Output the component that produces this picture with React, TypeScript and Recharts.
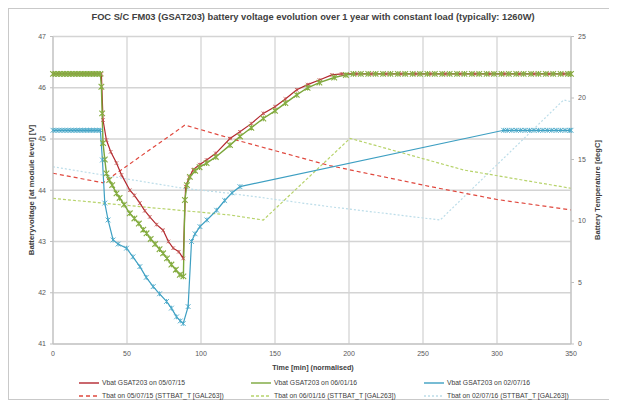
import { LineChart, Line, XAxis, YAxis, CartesianGrid } from "recharts";

// time [min] / value pairs
const vbatRed: [number, number][] = [
  [0, 46.27], [4, 46.27], [8, 46.27], [12, 46.27], [16, 46.27], [20, 46.27], [24, 46.27], [28, 46.27],
  [32.7, 46.27], [33.8, 45.37], [36.1, 44.98], [39, 44.75], [42.9, 44.53], [46.3, 44.3], [51.9, 44.0],
  [55, 43.9], [58.7, 43.75], [62, 43.6], [65.4, 43.48], [70, 43.33], [74.4, 43.22], [78, 43.0],
  [81.2, 42.87], [85, 42.8], [88, 42.67], [89.6, 44.07], [92, 44.25], [94.7, 44.4], [99, 44.5],
  [103.8, 44.59], [110, 44.72], [119.6, 45.01], [126.3, 45.14], [134, 45.3], [142.1, 45.5], [150, 45.63],
  [157, 45.78], [164.7, 45.96], [172, 46.06], [180, 46.15], [188.4, 46.25], [195, 46.27], [205, 46.27],
  [215, 46.27], [225, 46.27], [235, 46.27], [245, 46.27], [255, 46.27], [265, 46.27], [275, 46.27],
  [285, 46.27], [295, 46.27], [305, 46.27], [315, 46.27], [325, 46.27], [335, 46.27], [345, 46.27], [350, 46.27],
];

const vbatGreen: [number, number][] = [
  [0, 46.27], [2, 46.27], [4, 46.27], [6, 46.27], [8, 46.27], [10, 46.27], [12, 46.27], [14, 46.27],
  [16, 46.27], [18, 46.27], [20, 46.27], [22, 46.27], [24, 46.27], [26, 46.27], [28, 46.27], [30, 46.27],
  [32, 46.27], [32.7, 46.02], [33.2, 45.5], [33.8, 44.92], [35, 44.6], [36.1, 44.33], [38, 44.2],
  [40, 44.1], [42.9, 43.94], [45, 43.85], [48, 43.72], [51.9, 43.55], [55, 43.45], [58, 43.35],
  [61, 43.23], [63.2, 43.16], [66, 43.05], [69, 42.95], [72, 42.85], [74.4, 42.77], [77, 42.67],
  [80, 42.55], [83, 42.45], [85.7, 42.35], [88.1, 42.32], [89.1, 43.81], [90.5, 44.1], [92.5, 44.26],
  [96, 44.38], [99, 44.45], [103.8, 44.53], [110, 44.65], [119.6, 44.88], [126.3, 45.05], [134, 45.22],
  [142.1, 45.4], [150, 45.55], [157, 45.7], [164.7, 45.86], [172, 46.0], [180, 46.1], [190, 46.2],
  [197.9, 46.25], [203, 46.27], [208, 46.27], [213, 46.27], [218, 46.27], [223, 46.27], [228, 46.27],
  [233, 46.27], [238, 46.27], [243, 46.27], [248, 46.27], [253, 46.27], [258, 46.27], [263, 46.27],
  [268, 46.27], [273, 46.27], [278, 46.27], [283, 46.27], [288, 46.27], [293, 46.27], [298, 46.27],
  [303, 46.27], [308, 46.27], [313, 46.27], [318, 46.27], [323, 46.27], [328, 46.27], [333, 46.27],
  [338, 46.27], [343, 46.27], [348, 46.27], [350, 46.27],
];

const vbatBlue: [number, number][] = [
  [0, 45.17], [2, 45.17], [4, 45.17], [6, 45.17], [8, 45.17], [10, 45.17], [12, 45.17], [14, 45.17],
  [16, 45.17], [18, 45.17], [20, 45.17], [22, 45.17], [24, 45.17], [26, 45.17], [28, 45.17], [30, 45.17],
  [32, 45.17], [33.4, 44.59], [35, 43.75], [37.2, 43.42], [40.6, 43.03], [44, 42.95], [49.7, 42.87],
  [54, 42.7], [58.7, 42.51], [63, 42.3], [67.7, 42.12], [72, 41.98], [76.7, 41.83], [80, 41.7],
  [83.5, 41.53], [86, 41.45], [88, 41.4], [91.3, 41.73], [93.6, 43.0], [96, 43.15], [99.3, 43.29],
  [104, 43.42], [110.6, 43.61], [116, 43.8], [121, 43.95], [126.3, 44.07], [304.5, 45.17], [307, 45.17],
  [310, 45.17], [313, 45.17], [316, 45.17], [319, 45.17], [322, 45.17], [325, 45.17], [328, 45.17],
  [331, 45.17], [334, 45.17], [337, 45.17], [340, 45.17], [343, 45.17], [346, 45.17], [349, 45.17], [350, 45.17],
];

const tbatRed: [number, number][] = [
  [0, 13.88], [33.8, 13.11], [89.1, 17.8], [126.3, 16.5], [187, 14.5], [255, 12.8], [300, 11.75], [350, 10.9],
];

const tbatGreen: [number, number][] = [
  [0, 11.84], [58.7, 11.17], [119.6, 10.49], [142.1, 10.08], [200.7, 16.72], [277.4, 14.15], [350, 12.66],
];

const tbatCyan: [number, number][] = [
  [0, 14.41], [88, 12.66], [119.6, 12.25], [187, 11.16], [261.6, 10.08], [345, 19.84], [350, 19.7],
];

const xTicks = [0, 50, 100, 150, 200, 250, 300, 350];
const voltTicks = [41, 42, 43, 44, 45, 46, 47];
const tempTicks = [0, 5, 10, 15, 20, 25];

const legendItems = [
  { label: "Vbat GSAT203 on 05/07/15", color: "#b3262e", dash: undefined, row: 0, col: 0 },
  { label: "Vbat GSAT203 on 06/01/16", color: "#7aa63a", dash: undefined, row: 0, col: 1 },
  { label: "Vbat GSAT203 on 02/07/16", color: "#3d9fc2", dash: undefined, row: 0, col: 2 },
  { label: "Tbat on 05/07/15 (STTBAT_T [GAL263])", color: "#e0483e", dash: "4 3", row: 1, col: 0 },
  { label: "Tbat on 06/01/16 (STTBAT_T [GAL263])", color: "#b7d36b", dash: "3 2", row: 1, col: 1 },
  { label: "Tbat on 02/07/16 (STTBAT_T [GAL263])", color: "#bcdde9", dash: "2 2", row: 1, col: 2 },
];

const toPoints = (arr: [number, number][]) => arr.map(([t, v]) => ({ t, v }));

const font = "'Liberation Sans', Arial, sans-serif";

// Excel-style star marker (x with a vertical bar)
const crossDot = (color: string, r = 2.3, w = 0.8) => (props: any) => {
  const { cx, cy, index } = props;
  if (cx == null || cy == null) return <g key={`d-${index}`} />;
  return (
    <path
      key={`d-${index}`}
      d={`M${cx - r},${cy - r}L${cx + r},${cy + r}M${cx - r},${cy + r}L${cx + r},${cy - r}M${cx},${cy - r}L${cx},${cy + r}`}
      stroke={color}
      strokeWidth={w}
      fill="none"
    />
  );
};

const tickStyle = { fontSize: 7, fill: "#595959", fontFamily: font };

export default function App() {
  const colX = [69, 241, 414];
  const rowY = [373.5, 386.5];
  return (
    <div
      style={{
        position: "relative",
        width: 608,
        height: 390,
        borderTop: "1px solid #c9c9c9",
        borderLeft: "1px solid #c9c9c9",
        borderBottom: "1px solid #c9c9c9",
        background: "#fff",
        fontFamily: font,
      }}
    >
      <div
        style={{
          position: "absolute",
          left: 0,
          width: 608,
          top: 3,
          textAlign: "center",
          fontSize: 9.3,
          fontWeight: "bold",
          color: "#404040",
        }}
      >
        FOC S/C FM03 (GSAT203) battery voltage evolution over 1 year with constant load (typically: 1260W)
      </div>
      <LineChart width={608} height={380} margin={{ top: 27.5, right: 16, left: 14, bottom: 25 }}>
        <CartesianGrid stroke="#d4d4d4" strokeWidth={1.3} />
        <XAxis
          dataKey="t"
          type="number"
          domain={[0, 350]}
          ticks={xTicks}
          allowDuplicatedCategory={false}
          height={20}
          tick={tickStyle}
          tickLine={false}
          tickSize={4}
          tickMargin={3}
          axisLine={{ stroke: "#bfbfbf" }}
        />
        <YAxis
          yAxisId={0}
          domain={[41, 47]}
          ticks={voltTicks}
          width={30}
          tick={tickStyle}
          tickLine={{ stroke: "#bfbfbf" }}
          tickSize={3}
          tickMargin={4}
          axisLine={{ stroke: "#bfbfbf" }}
        />
        <YAxis
          yAxisId="temp"
          orientation="right"
          domain={[0, 25]}
          ticks={tempTicks}
          width={30}
          tick={tickStyle}
          tickLine={{ stroke: "#bfbfbf" }}
          tickSize={3}
          tickMargin={4}
          axisLine={{ stroke: "#bfbfbf" }}
        />
        <Line
          yAxisId="temp"
          data={toPoints(tbatCyan)}
          dataKey="v"
          stroke="#bcdde9"
          strokeWidth={1.2}
          strokeDasharray="2 2"
          dot={false}
          isAnimationActive={false}
        />
        <Line
          yAxisId="temp"
          data={toPoints(tbatGreen)}
          dataKey="v"
          stroke="#b7d36b"
          strokeWidth={1.2}
          strokeDasharray="3 2"
          dot={false}
          isAnimationActive={false}
        />
        <Line
          yAxisId="temp"
          data={toPoints(tbatRed)}
          dataKey="v"
          stroke="#e0483e"
          strokeWidth={1.2}
          strokeDasharray="4 3"
          dot={false}
          isAnimationActive={false}
        />
        <Line
          yAxisId={0}
          data={toPoints(vbatRed)}
          dataKey="v"
          stroke="#b3262e"
          strokeWidth={1.2}
          dot={crossDot("#c0504d", 1.8)}
          isAnimationActive={false}
        />
        <Line
          yAxisId={0}
          data={toPoints(vbatGreen)}
          dataKey="v"
          stroke="#7aa63a"
          strokeWidth={1.4}
          dot={crossDot("#86ad42", 2.8, 1.1)}
          isAnimationActive={false}
        />
        <Line
          yAxisId={0}
          data={toPoints(vbatBlue)}
          dataKey="v"
          stroke="#3d9fc2"
          strokeWidth={1.2}
          dot={crossDot("#4aa8c8", 2.4, 0.9)}
          isAnimationActive={false}
        />
      </LineChart>
      <div
        style={{
          position: "absolute",
          left: 22,
          top: 181,
          transform: "translate(-50%, -50%) rotate(-90deg)",
          whiteSpace: "nowrap",
          fontSize: 7.8,
          fontWeight: "bold",
          color: "#404040",
        }}
      >
        Batteryvoltage [at module level] [V]
      </div>
      <div
        style={{
          position: "absolute",
          left: 588,
          top: 181,
          transform: "translate(-50%, -50%) rotate(-90deg)",
          whiteSpace: "nowrap",
          fontSize: 7.6,
          fontWeight: "bold",
          color: "#404040",
        }}
      >
        Battery Temperature [degC]
      </div>
      <div
        style={{
          position: "absolute",
          left: 0,
          width: 608,
          top: 354,
          textAlign: "center",
          fontSize: 7.2,
          fontWeight: "bold",
          color: "#404040",
        }}
      >
        Time [min] (normalised)
      </div>
      {legendItems.map((item) => (
        <div
          key={item.label}
          style={{
            position: "absolute",
            left: colX[item.col],
            top: rowY[item.row] - 5,
            height: 10,
            display: "flex",
            alignItems: "center",
            whiteSpace: "nowrap",
            fontSize: 6.8,
            color: "#404040",
          }}
        >
          <svg width={22} height={10} style={{ marginRight: 2 }}>
            <line x1={1} y1={5} x2={21} y2={5} stroke={item.color} strokeWidth={1.4} strokeDasharray={item.dash} />
          </svg>
          {item.label}
        </div>
      ))}
    </div>
  );
}
